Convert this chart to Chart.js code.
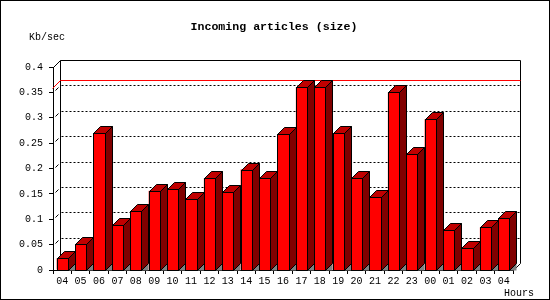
<!DOCTYPE html>
<html>
<head>
<meta charset="utf-8">
<script src="https://cdn.jsdelivr.net/npm/chart.js@4"></script>
<style>
html,body{margin:0;padding:0;background:#fff;}
#wrap{width:550px;height:300px;position:relative;}
</style>
</head>
<body>
<div id="wrap"><canvas id="c" width="550" height="300"></canvas></div>
<script>
// ---- data ----
const hours = ['04','05','06','07','08','09','10','11','12','13','14','15','16','17','18','19','20','21','22','23','00','01','02','03','04'];
const kbPerSec = [0.023,0.051,0.269,0.089,0.116,0.156,0.159,0.139,0.181,0.154,0.198,0.181,0.267,0.36,0.36,0.269,0.181,0.143,0.35,0.228,0.297,0.078,0.043,0.084,0.102];
const yTickLabels = ['0','0.05','0.1','0.15','0.2','0.25','0.3','0.35','0.4'];
const titleText = 'Incoming articles (size)';
const yUnitText = 'Kb/sec';
const xUnitText = 'Hours';
const maxValue = Math.max(...kbPerSec);

const D = 7; // 3D depth in pixels
const MONO = '"Liberation Mono", "DejaVu Sans Mono", monospace';

const threeD = {
  id: 'threeD',
  beforeDraw(chart) {
    const ctx = chart.ctx;
    ctx.save();
    ctx.fillStyle = '#fff';
    ctx.fillRect(0, 0, chart.width, chart.height);
    ctx.restore();
  },
  beforeDatasetsDraw(chart) {
    const ctx = chart.ctx;
    const a = chart.chartArea;
    const ys = chart.scales.y;
    const L = Math.round(a.left) + 0.5, R = Math.round(a.right) + 0.5;
    const T = Math.round(a.top) + 0.5, B = Math.round(a.bottom) + 0.5;
    ctx.save();
    ctx.lineWidth = 1;
    ctx.strokeStyle = '#000';
    // back frame
    ctx.beginPath();
    ctx.moveTo(L + D, B - D);
    ctx.lineTo(L + D, T - D);
    ctx.lineTo(R + D, T - D);
    ctx.lineTo(R + D, B - D);
    ctx.stroke();
    // corner connectors
    ctx.beginPath();
    ctx.moveTo(L, T); ctx.lineTo(L + D, T - D);
    ctx.moveTo(R, B); ctx.lineTo(R + D, B - D);
    ctx.stroke();
    // dotted grid lines on back plane + small diagonal ticks
    ys.ticks.forEach((t, i) => {
      const y = Math.round(ys.getPixelForValue(t.value)) + 0.5;
      if (i > 0 && i < ys.ticks.length - 1) {
        ctx.save();
        ctx.setLineDash([2, 2]);
        ctx.beginPath();
        ctx.moveTo(L + D + 1, y - D);
        ctx.lineTo(R + D, y - D);
        ctx.stroke();
        ctx.restore();
        ctx.beginPath();
        ctx.moveTo(L + 2, y - 2);
        ctx.lineTo(L + 5, y - 5);
        ctx.stroke();
      }
    });
    // max line (red)
    const my = Math.round(ys.getPixelForValue(maxValue)) + 0.5;
    ctx.strokeStyle = '#ff0000';
    ctx.beginPath();
    ctx.moveTo(L - 1, my + 1);
    ctx.lineTo(L + D, my - D);
    ctx.lineTo(R + D, my - D);
    ctx.stroke();
    ctx.restore();
  },
  afterDatasetsDraw(chart) {
    const ctx = chart.ctx;
    const meta = chart.getDatasetMeta(0);
    ctx.save();
    ctx.lineWidth = 1;
    ctx.strokeStyle = '#000';
    meta.data.forEach(bar => {
      const p = bar.getProps(['x', 'y', 'base', 'width'], true);
      const l = Math.round(p.x - p.width / 2) + 0.5;
      const r = Math.round(p.x + p.width / 2) + 0.5;
      const t = Math.round(p.y) + 0.5;
      const b = Math.round(p.base) + 0.5;
      // floor shadow
      ctx.fillStyle = '#808080';
      ctx.beginPath();
      ctx.moveTo(r, b); ctx.lineTo(r + D, b - D); ctx.lineTo(r + D, b); ctx.closePath();
      ctx.fill();
      // side face
      ctx.fillStyle = '#800000';
      ctx.beginPath();
      ctx.moveTo(r, t); ctx.lineTo(r + D, t - D); ctx.lineTo(r + D, b - D); ctx.lineTo(r, b); ctx.closePath();
      ctx.fill(); ctx.stroke();
      // top face
      ctx.fillStyle = '#c00000';
      ctx.beginPath();
      ctx.moveTo(l, t); ctx.lineTo(l + D, t - D); ctx.lineTo(r + D, t - D); ctx.lineTo(r, t); ctx.closePath();
      ctx.fill(); ctx.stroke();
      // front face outline
      ctx.fillStyle = '#ff0000';
      ctx.fillRect(l, t, r - l, b - t);
      ctx.strokeRect(l, t, r - l, b - t);
    });
    ctx.restore();
  },
  afterDraw(chart) {
    const ctx = chart.ctx;
    ctx.save();
    ctx.fillStyle = '#000';
    ctx.textBaseline = 'middle';
    ctx.font = 'bold 11.6px ' + MONO;
    ctx.textAlign = 'center';
    ctx.fillText(titleText, 274, 27);
    ctx.font = '10px ' + MONO;
    ctx.textAlign = 'left';
    ctx.fillText(yUnitText, 29, 37);
    ctx.textAlign = 'right';
    ctx.fillText(xUnitText, 534, 293);
    ctx.strokeStyle = '#000';
    ctx.lineWidth = 1;
    ctx.strokeRect(0.5, 0.5, 549, 299);
    ctx.restore();
  }
};

new Chart(document.getElementById('c'), {
  type: 'bar',
  data: {
    labels: hours,
    datasets: [{
      data: kbPerSec,
      backgroundColor: '#ff0000',
      borderWidth: 0,
      barPercentage: 0.6,
      categoryPercentage: 1.0
    }]
  },
  options: {
    responsive: false,
    animation: false,
    devicePixelRatio: 1,
    layout: { padding: { left: 0, right: 37, top: 67, bottom: 0 } },
    plugins: { legend: { display: false }, title: { display: false }, tooltip: { enabled: false } },
    scales: {
      x: {
        type: 'category',
        offset: true,
        afterFit(s) { s.height = 30; },
        grid: { display: true, offset: true, drawOnChartArea: false, drawTicks: true, tickLength: 4, color: '#000' },
        border: { display: true, color: '#000' },
        ticks: { color: '#000', font: { family: MONO, size: 10 }, padding: 1, maxRotation: 0, autoSkip: false }
      },
      y: {
        min: 0, max: 0.4,
        afterFit(s) { s.width = 53; },
        afterBuildTicks(s) {
          s.ticks = yTickLabels.map(v => ({ value: parseFloat(v) }));
        },
        grid: { display: true, drawOnChartArea: false, drawTicks: true, tickLength: 4, color: '#000' },
        border: { display: true, color: '#000' },
        ticks: {
          color: '#000', font: { family: MONO, size: 10 }, padding: 6,
          callback: (v, i) => yTickLabels[i]
        }
      }
    }
  },
  plugins: [threeD]
});
</script>
</body>
</html>
